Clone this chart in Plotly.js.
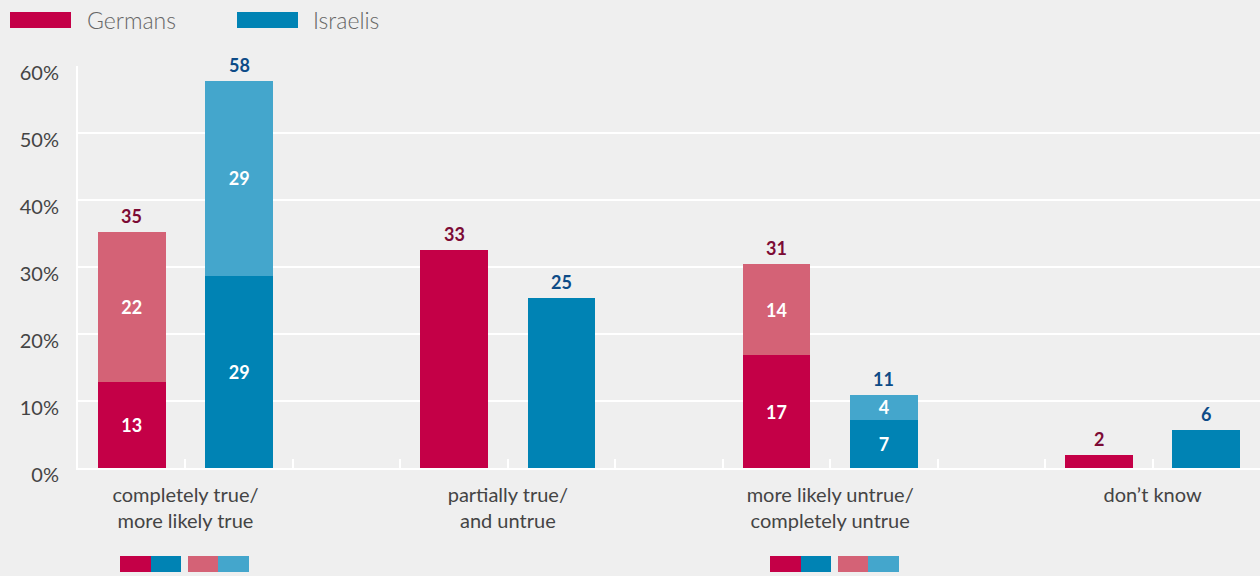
<!DOCTYPE html>
<html>
<head>
<meta charset="utf-8">
<script src="https://cdn.plot.ly/plotly-3.0.1.min.js"></script>
<style>
html,body{margin:0;padding:0;background:#efefef;}
#chart{width:1260px;height:576px;}
</style>
</head>
<body>
<div id="chart"></div>
<script>
// ---- data ----
const categories = ['completely true/<br>more likely true', 'partially true/<br>and untrue', 'more likely untrue/<br>completely untrue', 'don’t know'];
const germansSolid = [12.9, 32.5, 16.8, 1.9];
const germansLight = [22.3, 0, 13.6, 0];
const israelisSolid = [28.7, 25.4, 7.2, 5.7];
const israelisLight = [29.1, 0, 3.7, 0];
const germansSolidText = ['13', '', '17', ''];
const germansLightText = ['22', '', '14', ''];
const israelisSolidText = ['29', '', '7', ''];
const israelisLightText = ['29', '', '4', ''];
const germansTotalText = ['35', '33', '31', '2'];
const israelisTotalText = ['58', '25', '11', '6'];
const yTicks = [0, 10, 20, 30, 40, 50, 60];
const yTickText = ['0%', '10%', '20%', '30%', '40%', '50%', '60%'];
const seriesNames = ['Germans', 'Israelis'];

// ---- styling ----
const C_G = '#c40047', C_GL = '#d46276', C_I = '#0083b4', C_IL = '#44a6cc';
const C_GT = '#7c0b35', C_IT = '#0d4b87';
const FONT = 'Lato, "Open Sans", sans-serif';

const xG = categories.map((_, i) => 3 * i);
const xI = categories.map((_, i) => 3 * i + 1);
const gTot = germansSolid.map((v, i) => v + germansLight[i]);
const iTot = israelisSolid.map((v, i) => v + israelisLight[i]);

function barTrace(x, y, text, color) {
  return {
    type: 'bar', x: x, y: y, text: text, width: 0.63,
    marker: {color: color, line: {width: 0}},
    textposition: 'inside', insidetextanchor: 'middle', textangle: 0,
    textfont: {family: FONT, size: 18, color: '#ffffff', weight: 'bold'},
    constraintext: 'none', hoverinfo: 'skip', showlegend: false, cliponaxis: false
  };
}

const data = [
  barTrace(xG, germansSolid, germansSolidText, C_G),
  barTrace(xG, germansLight, germansLightText, C_GL),
  barTrace(xI, israelisSolid, israelisSolidText, C_I),
  barTrace(xI, israelisLight, israelisLightText, C_IL)
];

const tickvals = [], ticktext = [];
for (let k = 0; k < 10; k++) {
  tickvals.push(k + 0.5);
  ticktext.push(k % 3 === 0 ? categories[k / 3] : '');
}

// plot area: x 78..1260, y 66..468
const px = (x) => (x - 78) / 1182, py = (y) => (468 - y) / 402;
function rect(x0, y0, x1, y1, color) {
  return {type: 'rect', xref: 'paper', yref: 'paper', x0: px(x0), x1: px(x1), y0: py(y1), y1: py(y0),
          fillcolor: color, line: {width: 0}, layer: 'above'};
}

const shapes = [
  rect(10, 12, 71, 28, C_G),
  rect(237, 12, 298, 28, C_I),
  rect(120, 556, 151, 572, C_G), rect(151, 556, 181, 572, C_I),
  rect(188, 556, 218, 572, C_GL), rect(218, 556, 249, 572, C_IL),
  rect(770, 556, 801, 572, C_G), rect(801, 556, 831, 572, C_I),
  rect(838, 556, 868, 572, C_GL), rect(868, 556, 899, 572, C_IL)
];

const annotations = [
  {xref: 'paper', yref: 'paper', x: px(85), y: py(20), xanchor: 'left', yanchor: 'middle', showarrow: false,
   text: seriesNames[0], font: {family: FONT, size: 23, color: '#666666', weight: 300}},
  {xref: 'paper', yref: 'paper', x: px(311), y: py(20), xanchor: 'left', yanchor: 'middle', showarrow: false,
   text: seriesNames[1], font: {family: FONT, size: 23, color: '#666666', weight: 300}}
];
function totals(xs, ys, texts, color) {
  xs.forEach((x, i) => annotations.push({
    x: x, y: ys[i], xref: 'x', yref: 'y', text: texts[i], showarrow: false,
    xanchor: 'center', yanchor: 'bottom', yshift: 3,
    font: {family: FONT, size: 18, color: color, weight: 'bold'}
  }));
}
totals(xG, gTot, germansTotalText, C_GT);
totals(xI, iTot, israelisTotalText, C_IT);

const layout = {
  width: 1260, height: 576,
  paper_bgcolor: '#efefef', plot_bgcolor: '#efefef',
  margin: {l: 78, r: 0, t: 66, b: 108},
  barmode: 'stack', bargap: 0,
  showlegend: false,
  font: {family: FONT, color: '#444444'},
  xaxis: {
    range: [-0.5, 10.5], tickvals: tickvals, ticktext: ticktext,
    showgrid: false, zeroline: false,
    showline: true, linecolor: '#ffffff', linewidth: 2,
    ticks: 'inside', ticklen: 9, tickwidth: 2, tickcolor: '#ffffff',
    tickfont: {family: FONT, size: 20, color: '#444444'},
    ticklabelstandoff: 8,
    fixedrange: true
  },
  yaxis: {
    range: [0, 60], tickvals: yTicks, ticktext: yTickText,
    showgrid: true, gridcolor: '#ffffff', gridwidth: 2,
    zeroline: false, showline: true, linecolor: '#ffffff', linewidth: 2,
    ticks: '', ticklabelstandoff: 13, ticklabelshift: 7,
    tickfont: {family: FONT, size: 20, color: '#444444'},
    fixedrange: true
  },
  shapes: shapes,
  annotations: annotations
};

Plotly.newPlot('chart', data, layout, {displayModeBar: false, staticPlot: true});
</script>
</body>
</html>
